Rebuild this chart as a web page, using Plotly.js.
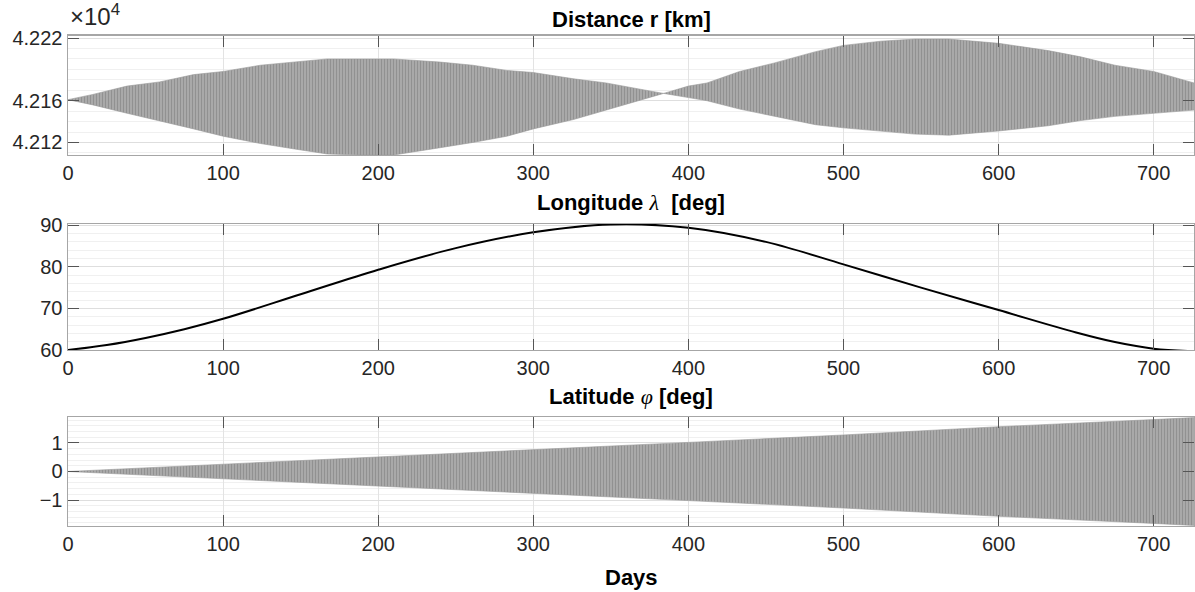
<!DOCTYPE html>
<html>
<head>
<meta charset="utf-8">
<script src="https://cdn.plot.ly/plotly-3.0.1.min.js"></script>
<style>html,body{margin:0;padding:0;background:#fff;}#chart{width:1195px;height:592px;}</style>
</head>
<body>
<div id="chart"></div>
<script>
// Distance r envelope (km)
const rDays  = [0,16,38,59,81,100,124,145,167,188,210,240,261,283,300,326,347,369,384,400,412,433,455,482,500,524,546,568,600,632,653,675,700,726];
const rUpper = [42161,42166,42174,42178,42185,42188,42194,42197,42200,42200,42200,42197,42194,42189,42187,42181,42177,42171,42167,42174,42177,42188,42196,42207,42213,42217,42219,42219,42215,42208,42202,42194,42188,42177];
const rLower = [42161,42156,42148,42141,42133,42126,42119,42114,42109,42108,42108,42115,42120,42126,42133,42142,42151,42161,42167,42163,42160,42152,42145,42137,42134,42131,42128,42127,42131,42136,42141,42145,42148,42151];
const rTickVals = [42120,42160,42220];
const rTickText = ['4.212','4.216','4.222'];

// Longitude (deg)
const lonDays = [0,25,50,75,100,150,200,250,300,350,400,450,500,550,600,650,675,700,726];
const lonVals = [60.0,61.2,62.9,65.0,67.5,73.4,79.3,84.5,88.3,90.2,89.4,86.0,80.6,75.0,69.6,64.2,61.9,60.3,59.7];

// Latitude envelope (deg)
const latDays  = [0,100,200,300,400,500,600,700,726];
const latUpper = [0,0.25,0.5,0.76,1.02,1.28,1.57,1.82,1.89];
const latLower = [0,-0.25,-0.5,-0.76,-1.02,-1.28,-1.57,-1.82,-1.89];

const xTicks = [0,100,200,300,400,500,600,700];

const bandLine = {color:'#999999', width:0.6};
const pattern = {shape:'|', bgcolor:'#a9a9a9', fgcolor:'#8a8a8a', size:3, solidity:0.25};

const traces = [
  {x:rDays, y:rLower, xaxis:'x', yaxis:'y', mode:'lines', line:bandLine, showlegend:false, hoverinfo:'skip'},
  {x:rDays, y:rUpper, xaxis:'x', yaxis:'y', mode:'lines', line:bandLine, fill:'tonexty', fillcolor:'#a9a9a9', fillpattern:pattern, showlegend:false, hoverinfo:'skip'},
  {x:lonDays, y:lonVals, xaxis:'x2', yaxis:'y2', mode:'lines', line:{color:'#000', width:2, shape:'spline', smoothing:1}, showlegend:false},
  {x:latDays, y:latLower, xaxis:'x3', yaxis:'y3', mode:'lines', line:bandLine, showlegend:false, hoverinfo:'skip'},
  {x:latDays, y:latUpper, xaxis:'x3', yaxis:'y3', mode:'lines', line:bandLine, fill:'tonexty', fillcolor:'#a9a9a9', fillpattern:pattern, showlegend:false, hoverinfo:'skip'}
];

const tickFont = {family:'Liberation Sans, Arial, sans-serif', size:20, color:'#262626'};

function xAx(anchor){
  return {anchor:anchor, domain:[0,1], range:[0,726], tickvals:xTicks, ticks:'inside', ticklen:11,
    tickcolor:'#555', showline:true, linecolor:'#a6a6a6', linewidth:1.5, mirror:'ticks',
    showgrid:true, gridcolor:'#e3e3e3', gridwidth:1, zeroline:false, tickfont:tickFont};
}
function yAx(anchor, domain, range, extra){
  return Object.assign({anchor:anchor, domain:domain, range:range, ticks:'inside', ticklen:11,
    tickcolor:'#555', showline:true, linecolor:'#a6a6a6', linewidth:1.5, mirror:'ticks',
    showgrid:true, gridcolor:'#dedede', gridwidth:1, zeroline:false, tickfont:tickFont}, extra);
}

const titleFont = {family:'Liberation Sans, Arial, sans-serif', size:22, color:'#000'};
const greek = s => '<span style="font-family:\'Liberation Serif\',serif;font-style:italic;font-weight:normal">'+s+'</span>';

const layout = {
  width:1195, height:592,
  margin:{l:68, r:1, t:0, b:0},
  paper_bgcolor:'#fff', plot_bgcolor:'#fff',
  xaxis: xAx('y'),
  yaxis: yAx('x', [0.7382,0.9392], [42108,42222], {tickvals:rTickVals, ticktext:rTickText,
    minor:{dtick:10, tick0:42120, showgrid:true, gridcolor:'#f0f0f0', gridwidth:1}}),
  xaxis2: xAx('y2'),
  yaxis2: yAx('x2', [0.4088,0.6216], [60,90.3], {tickvals:[60,70,80,90],
    minor:{dtick:2, tick0:60, showgrid:true, gridcolor:'#f0f0f0', gridwidth:1}}),
  xaxis3: xAx('y3'),
  yaxis3: yAx('x3', [0.1115,0.2956], [-1.91,1.91], {tickvals:[-1,0,1],
    minor:{dtick:0.2, tick0:0, showgrid:true, gridcolor:'#f0f0f0', gridwidth:1}}),
  annotations:[
    {text:'<b>Distance r [km]</b>', xref:'paper', yref:'paper', x:0.5, y:1-19/592, xanchor:'center', yanchor:'middle', showarrow:false, font:titleFont},
    {text:'<b>Longitude '+greek('λ')+'  [deg]</b>', xref:'paper', yref:'paper', x:0.5, y:1-202/592, xanchor:'center', yanchor:'middle', showarrow:false, font:titleFont},
    {text:'<b>Latitude '+greek('φ')+' [deg]</b>', xref:'paper', yref:'paper', x:0.5, y:1-396/592, xanchor:'center', yanchor:'middle', showarrow:false, font:titleFont},
    {text:'<b>Days</b>', xref:'paper', yref:'paper', x:0.5, y:1-577/592, xanchor:'center', yanchor:'middle', showarrow:false, font:titleFont},
    {text:'×10<sup>4</sup>', xref:'paper', yref:'paper', x:0, y:1-15/592, xanchor:'left', yanchor:'middle', showarrow:false, font:{family:'Liberation Sans, Arial, sans-serif', size:24, color:'#262626'}}
  ]
};

Plotly.newPlot('chart', traces, layout, {staticPlot:true, displayModeBar:false});
</script>
</body>
</html>
